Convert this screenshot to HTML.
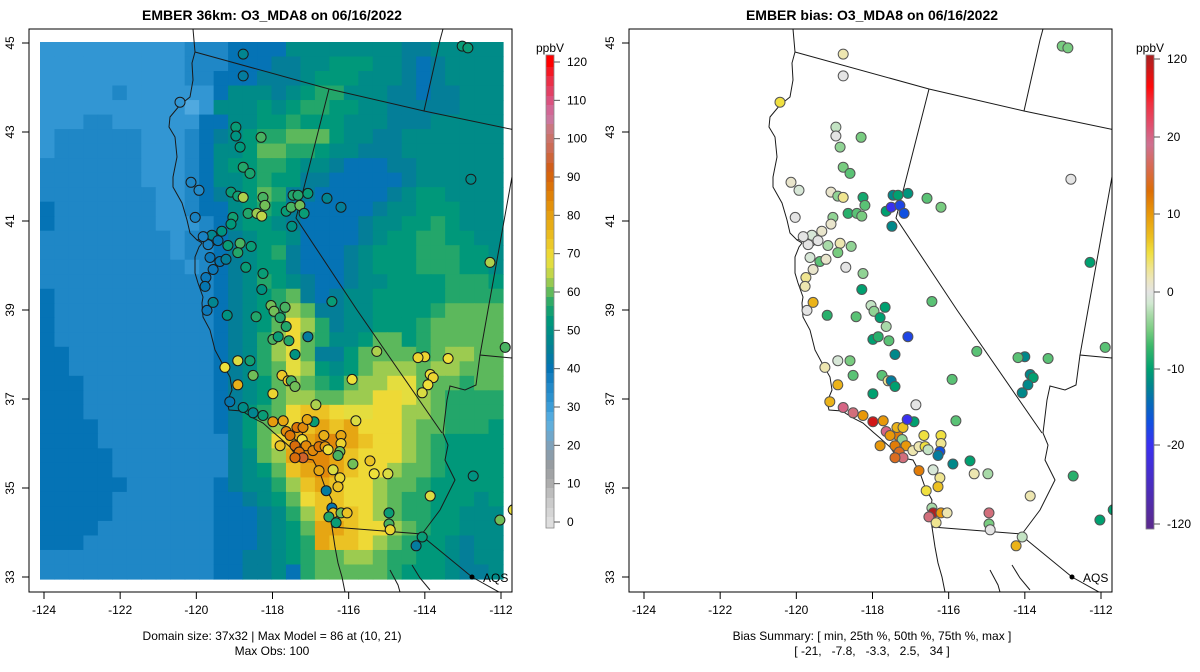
<!DOCTYPE html>
<html><head><meta charset="utf-8"><style>
html,body{margin:0;padding:0;background:#fff;}
svg{display:block;font-family:"Liberation Sans",sans-serif;}
</style></head><body>
<svg id="chart" width="1200" height="672" viewBox="0 0 1200 672" xmlns="http://www.w3.org/2000/svg">
<text x="272" y="20" text-anchor="middle" font-size="14" font-weight="bold">EMBER 36km: O3_MDA8 on 06/16/2022</text>
<text x="872" y="20" text-anchor="middle" font-size="14" font-weight="bold">EMBER bias: O3_MDA8 on 06/16/2022</text>
<defs>
<clipPath id="clipL"><rect x="29" y="29" width="483" height="563"/></clipPath>
<clipPath id="clipR"><rect x="629" y="29" width="483" height="563"/></clipPath>
</defs>
<g id="panelL" clip-path="url(#clipL)"></g>
<g id="panelR" clip-path="url(#clipR)"></g>
<g id="axes"></g>
<text x="272" y="640" text-anchor="middle" font-size="12">Domain size: 37x32 | Max Model = 86 at (10, 21)</text>
<text x="272" y="655" text-anchor="middle" font-size="12">Max Obs: 100</text>
<text x="872" y="640" text-anchor="middle" font-size="12">Bias Summary: [ min, 25th %, 50th %, 75th %, max ]</text>
<text x="872" y="655" text-anchor="middle" font-size="12" style="white-space:pre" xml:space="preserve">[ -21,   -7.8,   -3.3,   2.5,   34 ]</text>
</svg>
<script>
// ---------- data ----------
const lonTicks = [-124,-122,-120,-118,-116,-114,-112];
const latTicks = [45,43,41,39,37,35,33];
const modelTicks = [0,10,20,30,40,50,60,70,80,90,100,110,120];
const biasTickLabels = ["120","20","10","0","-10","-20","-120"];
const biasTickValues = [120,20,10,0,-10,-20,-120];
// model grid rows (north to south), 32 columns each; letters encode ppbV level
const gridLevels = {B:29,L:32,M:37,D:41,t:46,e:50,f:54,g:58,h:61,i:64,j:69,y:71,k:75,o:80,r:85};
const gridRows = [
"LLLLLLLLLLMMMDDDDeeeeeeeetteeeee",
"LLLLLLLLLLMMMDDDtteefffeetDteeee",
"LLLLLLLLLLMMDDDtttefffeeetDteeee",
"LLLLLMLLLLLLDeeetefggeeettDtteee",
"LLLLLLLLLLBLeeefefggffeettttteee",
"LLLMMLLLLLLDDeeffgfffeeettteeeee",
"LMMMMMMLLLMDtefgghhhfeetteeeeeee",
"LMMMMMMLLLMDeefhhggfeettteeeeeee",
"MMMMMMMLLLMDeffggfeetDDDtteeeeee",
"MMMMMMMLLLMDeefgffttDDDDDteeeeee",
"MMMMMMMMLLMDtefhgttDDDDDteffeeee",
"DMMMMMMMLLMDDefgftDDDDDteefffeee",
"DMMMMMMMLLLMDeffetDDDDteeffgfeee",
"MMMMMMMMMLMMDteffeDDDDteffggffee",
"MMMMMMMMMLMMDtefgtDDDtefffgggffe",
"MMMMMMMMMMLMDtefftDDDtefffgggffe",
"MMMMMMMMMMMMDtegfetDDteeffffgggf",
"DMMMMMMMMMMMDtefghtDteefffffgggg",
"DMMMMMMMMMMMDtefgihtteeffffghhhh",
"DMMMMMMMMMMMDtefhyigteefffghhhhh",
"DMMMMMMMMMMMDtegiyhgeefhhfghhhhh",
"DDMMMMMMMMMMDtegijhttfhhhhghiihh",
"DDMMMMMMMMMMDteghjifefhiiihiihhh",
"DDDMMMMMMMMMDtefhihgfhiijjhhhghh",
"DDDMMMMMMMMMDtefhiihhiiyyjihgggg",
"DDDMMMMMMMMMDtfghykkyjjyyiihgggg",
"DDDDMMMMMMMMDtfhiykokoyyyihhgggf",
"DDDDMMMMMMMMMtfhykorrokyyihgffff",
"DDDDDMMMMMMMMtehiorrokyyyihgffff",
"DDDDDMMMMMMMMtefhkorokyyihhgffff",
"DDDDDDMMMMMMDteegikokyyihhgfffff",
"DDDDDMMMMMMMDDtefhykkyyihggfffef",
"DDDDDMMMMMMMDDDtegikkkyihggffeee",
"DDDDMMMMMMMMDDDtefhookyyihgffeee",
"DDDMMMMMMMMMDDDtefgokkyihgffetee",
"MMMMMMMMMMMMDDttefghhiihggffetee",
"MMMMMMMMMMMMDDtteDghhhhhgfffette"
];
// stations: axis lon, axis lat, observed ppbV, bias ppbV
const stLon = [-118.77,-118.77,-120.43,-118.96,-118.96,-118.30,-118.85,-118.77,-118.59,-120.14,-119.93,-119.09,-118.91,-118.77,-118.25,-118.20,-118.64,-118.41,-118.28,-119.04,-119.09,-120.03,-117.64,-117.46,-117.33,-117.07,-117.51,-117.28,-117.17,-116.57,-116.20,-117.49,-119.33,-119.59,-119.17,-118.85,-118.56,-118.91,-119.69,-119.43,-119.82,-119.64,-119.38,-119.22,-119.56,-119.75,-119.77,-118.70,-118.25,-118.28,-119.56,-119.72,-119.19,-118.43,-118.04,-117.96,-117.80,-117.67,-117.64,-117.99,-117.85,-117.57,-117.07,-117.41,-116.44,-115.26,-118.91,-119.25,-118.59,-118.51,-117.75,-117.59,-117.51,-117.41,-117.99,-115.91,-118.91,-119.12,-116.86,-116.91,-115.81,-118.77,-118.51,-118.25,-117.99,-117.72,-117.64,-117.33,-117.54,-117.36,-117.20,-117.09,-117.22,-117.12,-117.41,-117.30,-117.20,-117.41,-117.80,-116.94,-116.78,-116.62,-116.54,-116.65,-116.20,-116.20,-116.23,-116.28,-115.89,-115.44,-115.33,-114.97,-116.78,-116.41,-116.23,-116.28,-116.59,-116.44,-116.41,-116.52,-116.20,-116.04,-116.33,-114.94,-114.94,-114.91,-114.00,-113.86,-113.78,-113.92,-114.07,-114.18,-113.39,-112.29,-111.89,-112.73,-113.86,-114.23,-114.07,-112.03,-111.68,-113.02,-112.87,-112.79];
const stLat = [44.75,44.26,43.67,43.11,42.91,42.88,42.66,42.21,42.07,41.87,41.69,41.65,41.56,41.53,41.53,41.35,41.17,41.17,41.11,41.08,40.93,41.08,41.22,41.58,41.58,41.62,41.31,41.35,41.17,41.51,41.31,40.88,40.77,40.68,40.45,40.50,40.43,40.29,40.47,40.56,40.65,40.18,40.09,40.14,39.91,39.73,39.53,39.96,39.82,39.46,39.17,38.99,38.88,38.85,39.10,38.97,38.83,39.06,38.63,38.34,38.40,38.31,38.40,38.00,39.19,38.07,37.86,37.71,37.86,37.53,37.53,37.41,37.41,37.28,37.12,37.44,37.32,36.94,36.87,36.49,36.51,36.81,36.69,36.63,36.49,36.51,36.27,36.18,36.18,36.36,36.36,36.54,36.09,35.95,35.95,35.81,35.68,35.68,35.95,35.84,35.93,35.93,35.86,36.18,36.18,36.00,35.82,35.73,35.54,35.61,35.32,35.32,35.39,35.41,35.23,35.03,34.94,34.55,34.44,34.35,34.44,34.44,34.22,34.44,34.19,34.06,37.95,37.55,37.48,37.32,37.14,37.93,37.91,40.07,38.16,35.27,34.82,33.70,33.90,34.28,34.51,44.93,44.89,41.94];
const stObs = [48,45,32,55,52,60,54,58,57,37,36,55,56,65,60,62,58,64,66,56,54,38,55,58,58,55,60,62,55,48,46,52,52,48,55,60,55,58,38,42,38,40,42,46,40,40,42,55,55,52,48,40,52,58,62,62,58,60,58,60,55,58,45,52,55,65,68,70,56,62,74,74,60,62,72,70,78,42,65,55,68,50,48,55,82,80,85,80,88,88,85,80,70,85,90,88,95,90,75,85,88,82,70,78,80,72,62,60,62,75,70,68,80,68,72,75,45,42,75,58,62,75,55,55,60,72,72,70,72,70,68,72,70,65,60,52,68,45,55,62,70,55,55,50];
const stBias = [2,0,5,-2,0,-5,-4,-5,-6,1,-1,1,-4,3,-9,-6,-8,-6,-5,-4,1,0,-10,-12,-10,-11,-20,-18,-17,-6,-5,-12,1,-1,-3,2,-4,-5,0,0,0,-1,-6,1,1,3,2,0,-4,-10,8,0,-8,-6,-2,-4,-10,-10,-3,-10,-8,-6,-18,-12,-6,-6,-1,2,-5,-6,-6,3,-13,-10,-10,-6,8,8,0,-10,-6,20,18,10,32,10,20,12,10,8,7,-20,-4,10,12,14,18,14,10,2,2,5,-2,5,5,3,-17,-13,-12,-10,2,-3,12,-1,3,7,5,-3,34,18,10,2,3,18,-5,0,-12,-12,-10,-12,-12,-6,-6,-10,-6,-8,2,8,-2,-10,-10,-5,-5,0];
// basemap outlines (left-panel pixel frame)
const coast = [[193,29],[195,52],[192,63],[193,80],[190,97],[180,105],[170,117],[169,127],[175,137],[177,157],[173,177],[173,187],[182,203],[187,220],[190,233],[197,240],[202,243],[199,247],[195,257],[195,273],[198,283],[203,297],[202,303],[203,317],[210,330],[215,350],[222,363],[230,377],[232,390],[227,402],[229,410],[242,411],[253,418],[263,423],[273,432],[280,438],[290,447],[297,457],[313,460],[320,473],[325,487],[332,500],[330,513],[332,527],[335,547],[338,563],[342,577],[345,592]];
const bayLine = [[197,240],[205,238],[212,244],[218,242],[210,248],[203,246]];
const orBorder = [[195,52],[329,89],[424,111],[515,130]];
const idBorder = [[424,111],[440,40],[443,29]];
const caNv = [[329,89],[300,203],[296,218],[357,310],[442,433]];
const river = [[480,355],[476,385],[465,390],[450,386],[447,400],[443,433],[448,445],[445,460],[455,480],[440,510],[425,530],[422,534]];
const mexBorder = [[332,527],[422,534]];
const azMex = [[422,536],[472,577],[515,601]];
const nvUt = [[515,160],[488,310],[480,355],[512,358]];
const orNvEast = [[515,130],[515,160]];
const gulfLines = [[[390,570],[398,585],[400,592]],[[412,565],[420,578],[430,590]]];

// ---------- scales ----------
const NS = "http://www.w3.org/2000/svg";
function lonX(lon){ return 44 + (lon + 124) * (457/12); }
function latY(lat){ return 43 + (45 - lat) * (534/12); }
function hex(c){ return [parseInt(c.slice(1,3),16),parseInt(c.slice(3,5),16),parseInt(c.slice(5,7),16)]; }
function interp(stops, v){
  if (v <= stops[0][0]) return stops[0][1];
  for (let i=1;i<stops.length;i++){
    if (v <= stops[i][0]){
      const t=(v-stops[i-1][0])/(stops[i][0]-stops[i-1][0]);
      const a=hex(stops[i-1][1]), b=hex(stops[i][1]);
      return "rgb("+a.map((x,k)=>Math.round(x+(b[k]-x)*t)).join(",")+")";
    }
  }
  return stops[stops.length-1][1];
}
const mStops=[[0,'#e3e3e3'],[7,'#c8c8c8'],[12,'#a8a8a8'],[17,'#949aa0'],[22,'#7aa2bf'],[27,'#5bb0e0'],[30,'#4aa6de'],[32,'#3296d3'],[37,'#1f87c6'],[41,'#0573b5'],[46,'#047e98'],[50,'#008b88'],[54,'#00987a'],[58,'#23a66a'],[61,'#5cb85c'],[64,'#9ccb50'],[67,'#d0da46'],[70,'#eedf3a'],[74,'#ecc828'],[78,'#e8b018'],[83,'#e4960c'],[88,'#dc7606'],[93,'#d25c10'],[98,'#cc6a50'],[103,'#c97878'],[107,'#cc75a5'],[112,'#dc4c78'],[117,'#ee2a40'],[121,'#ff0000']];
const bStops=[[-25,'#5a2a90'],[-20,'#3a30f0'],[-17,'#1050e0'],[-14,'#0570b0'],[-12,'#00888a'],[-10,'#00a070'],[-7,'#3cb86a'],[-5,'#78cc80'],[-3,'#a8daa8'],[-1.5,'#d0e8d0'],[0,'#e4e4e4'],[1.5,'#ece6c0'],[3,'#efe590'],[5,'#f0e040'],[7,'#ecc020'],[10,'#e8980a'],[13,'#dd6e06'],[16,'#d86a50'],[19,'#cf7090'],[22,'#e05070'],[26,'#f03040'],[29,'#ff0a0a'],[34,'#b02020']];
function mColor(v){ return interp(mStops,v); }
function bColor(v){ return interp(bStops,v); }
function mk(tag, attrs, parent){
  const el=document.createElementNS(NS,tag);
  for (const k in attrs) el.setAttribute(k, attrs[k]);
  parent.appendChild(el); return el;
}
const panelL=document.getElementById('panelL');
const panelR=document.getElementById('panelR');
const axes=document.getElementById('axes');

// ---------- heatmap ----------
const nRows=gridRows.length, nCols=gridRows[0].length;
const gx0=40, gx1=503, gy0=42, gy1=579;
const cw=(gx1-gx0)/nCols, ch=(gy1-gy0)/nRows;
const heat=mk('g',{},panelL);


gridRows.forEach((row,r)=>{
  for (let c=0;c<nCols;c++){
    const v=gridLevels[row[c]];
    const cell=mk('rect',{x:(gx0+c*cw).toFixed(2),y:(gy0+r*ch).toFixed(2),width:(cw+0.6).toFixed(2),height:(ch+0.6).toFixed(2),fill:mColor(v)},heat);
    
    
  }
});

// ---------- basemap ----------
function drawLines(parent, dx){
  const g=mk('g',{fill:'none',stroke:'#1a1a1a','stroke-width':'1'},parent);
  
  
  const lines=[coast,bayLine,orBorder,idBorder,caNv,river,mexBorder,azMex,nvUt,orNvEast].concat(gulfLines);
  lines.forEach(pts=>{
    const p=mk('polyline',{points:pts.map(q=>(q[0]+dx)+','+q[1]).join(' ')},g);
    
    
  });
}
drawLines(panelL,0);
drawLines(panelR,600);

// ---------- stations ----------
function drawStations(parent, dx, vals, cfn, stroke){
  const g=mk('g',{},parent);
  
  
  for (let i=0;i<stLon.length;i++){
    const c=mk('circle',{cx:(lonX(stLon[i])+dx).toFixed(1),cy:latY(stLat[i]).toFixed(1),r:'5',fill:cfn(vals[i]),stroke:stroke,'stroke-width':'1'},g);
    
    
  }
  const d=mk('circle',{cx:472+dx,cy:577,r:'2.5',fill:'#000'},g);
  
  
  const t=mk('text',{x:483+dx,y:582,'font-size':'12'},g);
  t.textContent='AQS';
  
  
}
drawStations(panelL,0,stObs,mColor,'#1a1a1a');
drawStations(panelR,600,stBias,bColor,'#555');

// ---------- axes ----------
[0,600].forEach((dx,pi)=>{
  const box=mk('rect',{x:29+dx,y:29,width:483,height:563,fill:'none',stroke:'#000','stroke-width':'1'},axes);
  
  
  lonTicks.forEach(v=>{
    const x=lonX(v)+dx;
    const tk=mk('line',{x1:x,x2:x,y1:592,y2:599,stroke:'#000'},axes);
    
    
    const t=mk('text',{x:x,y:614,'text-anchor':'middle','font-size':'12'},axes);
    t.textContent=String(v);
    
    
  });
  latTicks.forEach(v=>{
    const y=latY(v);
    const tk=mk('line',{x1:22+dx,x2:29+dx,y1:y,y2:y,stroke:'#000'},axes);
    
    
    const t=mk('text',{x:0,y:0,'text-anchor':'middle','font-size':'12',transform:'translate('+(14+dx)+','+y+') rotate(-90)'},axes);
    t.textContent=String(v);
    
    
  });
});

// ---------- colorbars ----------
const cbL=mk('g',{},axes);


function mBarY(v){ return 522 - v*(460/120); }
for (let y=55;y<528;y++){
  const v=(522-y-0.5)/(460/120);
  mk('rect',{x:546,y:y,width:8,height:1.2,fill:mColor(Math.round(v/2.5)*2.5+1.25)},cbL);
}
mk('rect',{x:546,y:55,width:8,height:473,fill:'none',stroke:'#888','stroke-width':'0.8'},cbL);
modelTicks.forEach(v=>{
  const y=mBarY(v);
  mk('line',{x1:554,x2:560,y1:y,y2:y,stroke:'#555'},cbL);
  const t=mk('text',{x:567,y:y+4,'font-size':'12'},cbL);
  t.textContent=String(v);
  
  
});
const uL=mk('text',{x:550,y:52,'text-anchor':'middle','font-size':'12'},cbL);
uL.textContent='ppbV';



const cbR=mk('g',{},axes);


const bTickY=[59,137,214,292,369,445,524];
function barValue(y){
  for (let i=1;i<bTickY.length;i++){
    if (y<=bTickY[i]){
      const t=(y-bTickY[i-1])/(bTickY[i]-bTickY[i-1]);
      return biasTickValues[i-1]+(biasTickValues[i]-biasTickValues[i-1])*t;
    }
  }
  return -120;
}
function compress(v){ if (v>20) return 20+(v-20)/100*14; if (v<-20) return -20-(-v-20)/100*5; return v; }
for (let y=55;y<529;y++){
  mk('rect',{x:1146,y:y,width:8,height:1.2,fill:bColor(compress(barValue(y+0.5)))},cbR);
}
mk('rect',{x:1146,y:55,width:8,height:474,fill:'none',stroke:'#888','stroke-width':'0.8'},cbR);
biasTickLabels.forEach((lab,i)=>{
  const y=bTickY[i];
  mk('line',{x1:1154,x2:1160,y1:y,y2:y,stroke:'#555'},cbR);
  const t=mk('text',{x:1167,y:y+4,'font-size':'12'},cbR);
  t.textContent=lab;
  
  
});
const uR=mk('text',{x:1150,y:52,'text-anchor':'middle','font-size':'12'},cbR);
uR.textContent='ppbV';


</script>
</body></html>
